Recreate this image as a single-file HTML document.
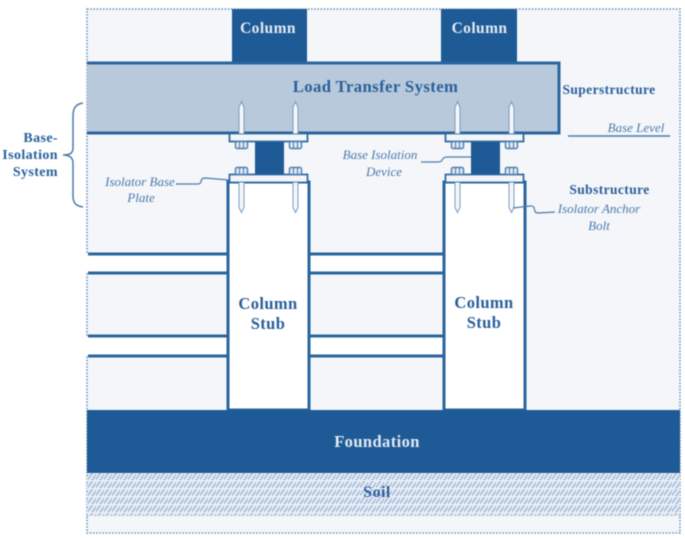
<!DOCTYPE html>
<html><head><meta charset="utf-8"><style>
html,body{margin:0;padding:0;background:#fff;width:685px;height:538px;overflow:hidden}
svg{display:block;filter:blur(.4px)}
text{font-family:"Liberation Serif",serif;fill:#2a609b;font-weight:bold}
.i{font-style:italic;font-weight:normal;font-size:13px;fill:#4a7bad}
.w{fill:#e3eaf2}
</style></head><body>
<svg width="685" height="538" viewBox="0 0 685 538" xmlns="http://www.w3.org/2000/svg">
<defs>
<pattern id="soil" width="8" height="8" patternUnits="userSpaceOnUse">
<rect width="8" height="8" fill="#e6ecf4"/>
<g fill="#7c9ec7">
<rect x="0" y="5.500" width="1.500" height="1.500"/><rect x="1.500" y="3.500" width="1.500" height="1.500"/><rect x="3" y="1.500" width="1.500" height="1.500"/>
<rect x="4" y="6.500" width="1.500" height="1.500"/><rect x="5.500" y="4.500" width="1.500" height="1.500"/><rect x="7" y="2.500" width="1" height="1.500"/>
</g>
</pattern>
<g id="nut"><rect x="-6" y="0" width="12" height="7" rx="1.5" fill="#e3e9f1" stroke="#4c7fb3" stroke-width="1.4"/><path d="M-2 0V7M2 0V7" stroke="#4c7fb3" stroke-width="1.1"/></g>
<g id="iso">
<rect x="25.500" y="8" width="29" height="34" fill="#1d5a96"/>
<rect x="0" y="0" width="78" height="8" fill="#f3f5f8" stroke="#2a659f" stroke-width="1.700"/>
<rect x="0" y="41" width="78" height="8" fill="#f3f5f8" stroke="#2a659f" stroke-width="1.700"/>
<use href="#nut" x="12" y="8"/><use href="#nut" x="66" y="8"/>
<use href="#nut" x="12" y="34"/><use href="#nut" x="66" y="34"/>
<path d="M9.500 0V-26L12 -32L14.500 -26V0M63.500 0V-26L66 -32L68.500 -26V0" fill="#f4f6f9" stroke="#7a9cc2" stroke-width="1"/>
<path d="M9.500 49V74L12 79L14.500 74V49M63.500 49V74L66 79L68.500 74V49" fill="#f4f6f9" stroke="#7a9cc2" stroke-width="1"/>
</g>
</defs>
<rect x="87" y="9" width="593" height="524" fill="#f4f6f9" stroke="#6f94bf" stroke-width="1.6" stroke-dasharray="1.6 1.6"/>
<g fill="#1d5a96">
<rect x="232" y="9" width="75" height="54"/>
<rect x="441" y="9" width="76" height="54"/>
</g>
<rect x="87" y="63" width="472" height="70" fill="#b8c9db"/>
<path d="M87 63H559V133H87" fill="none" stroke="#2a659f" stroke-width="3"/>
<g fill="#fff">
<rect x="86" y="254" width="142" height="19"/><rect x="86" y="336" width="142" height="20"/>
<rect x="309" y="254" width="135" height="19"/><rect x="309" y="336" width="135" height="20"/>
</g>
<path d="M88 254H228M88 273H228M88 336H228M88 356H228M309 254H443M309 273H443M309 336H443M309 356H443" fill="none" stroke="#2a659f" stroke-width="3"/>
<rect x="228" y="182" width="81" height="228" fill="#fff" stroke="#2a659f" stroke-width="3"/>
<rect x="444" y="182" width="81" height="228" fill="#fff" stroke="#2a659f" stroke-width="3"/>
<use href="#iso" x="229.500" y="133.500"/>
<use href="#iso" x="445.500" y="133.500"/>
<rect x="87" y="410" width="593" height="63" fill="#1d5a96"/>
<rect x="87" y="473" width="593" height="43" fill="url(#soil)"/>
<g fill="none" stroke="#4a7bad" stroke-width="1.2">
<path d="M176 184L198 184C203 184 199 178 205 178L229 180"/>
<path d="M421 162L438 162C444 162 441 157 447 157L471 157"/>
<path d="M513 208L530 206C537 205 532 213 538 213L555 212"/>
</g>
<path d="M83 103C76 104 73 108 73 116V148C73 153 70 155 63 155C70 155 73 158 73 163V196C73 203 76 206 83 207" fill="none" stroke="#4a7bad" stroke-width="1.5"/>
<path d="M568 136H670" stroke="#4a7bad" stroke-width="1.4"/>
<g letter-spacing=".4">
<text class="w" x="268" y="33" font-size="15.500" text-anchor="middle">Column</text>
<text class="w" x="479.500" y="33" font-size="15.500" text-anchor="middle">Column</text>
<text x="375.500" y="92" font-size="16.700" text-anchor="middle">Load Transfer System</text>
<text x="609" y="94" font-size="13.500" text-anchor="middle">Superstructure</text>
<text x="609.500" y="194" font-size="13.500" text-anchor="middle">Substructure</text>
<text x="268" y="309" font-size="16.500" text-anchor="middle">Column</text>
<text x="268" y="329" font-size="16.500" text-anchor="middle">Stub</text>
<text x="484" y="308" font-size="16.500" text-anchor="middle">Column</text>
<text x="484" y="328" font-size="16.500" text-anchor="middle">Stub</text>
<text class="w" x="377" y="447" font-size="16.500" text-anchor="middle">Foundation</text>
<text x="377" y="497" font-size="16" text-anchor="middle">Soil</text>
<text x="58" y="142" font-size="14" text-anchor="end">Base-</text>
<text x="58" y="159" font-size="14" text-anchor="end">Isolation</text>
<text x="58" y="176" font-size="14" text-anchor="end">System</text>
</g>
<text class="i" x="140" y="186" text-anchor="middle">Isolator Base</text>
<text class="i" x="141" y="202" text-anchor="middle">Plate</text>
<text class="i" x="380" y="159" text-anchor="middle">Base Isolation</text>
<text class="i" x="384" y="176" text-anchor="middle">Device</text>
<text class="i" x="636" y="132" text-anchor="middle">Base Level</text>
<text class="i" x="599" y="213" text-anchor="middle">Isolator Anchor</text>
<text class="i" x="599" y="230" text-anchor="middle">Bolt</text>
</svg>
</body></html>
